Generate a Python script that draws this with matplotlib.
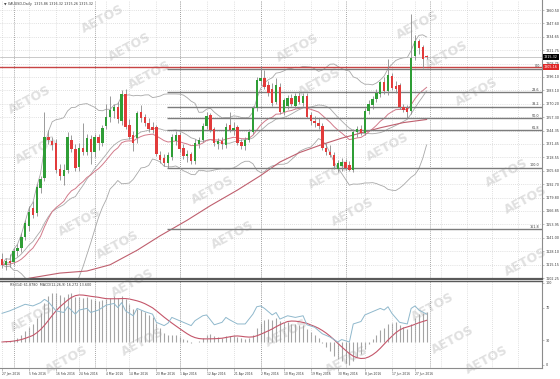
import numpy as np
import pandas as pd
import matplotlib
matplotlib.use('Agg')
import matplotlib.pyplot as plt

# daily XAUUSD candles, 27 Jan 2016 .. 30 Jun 2016
candle_open = [1121, 1115, 1119, 1118, 1128, 1131, 1142, 1152, 1170, 1165, 1189, 1199, 1238, 1234, 1232, 1207,
               1201, 1206, 1235, 1227, 1209, 1228, 1224, 1236, 1224, 1238, 1232, 1249, 1257, 1263, 1267, 1254,
               1280, 1250, 1240, 1237, 1262, 1257, 1252, 1248, 1248, 1221, 1218, 1213, 1219, 1234, 1240, 1228,
               1220, 1222, 1215, 1231, 1235, 1249, 1259, 1246, 1231, 1234, 1230, 1250, 1245, 1248, 1233, 1229,
               1235, 1243, 1266, 1292, 1295, 1288, 1284, 1272, 1286, 1262, 1268, 1276, 1268, 1278, 1271, 1278,
               1259, 1254, 1252, 1249, 1228, 1224, 1221, 1207, 1210, 1214, 1211, 1206, 1243, 1246, 1242, 1263,
               1269, 1275, 1280, 1291, 1282, 1297, 1287, 1288, 1267, 1266, 1263, 1316, 1331, 1325, 1315.5]
candle_high = [1126, 1122, 1125, 1131, 1135, 1146, 1158, 1172, 1176, 1193, 1201, 1262, 1245, 1238, 1236, 1212,
               1212, 1243, 1240, 1231, 1232, 1252, 1241, 1240, 1241, 1241, 1250, 1270, 1278, 1270, 1272, 1283,
               1284, 1255, 1244, 1263, 1269, 1260, 1256, 1253, 1250, 1225, 1222, 1224, 1241, 1244, 1243, 1231,
               1226, 1224, 1236, 1238, 1252, 1262, 1261, 1248, 1237, 1238, 1252, 1262, 1253, 1250, 1236, 1238,
               1246, 1268, 1296, 1307, 1303, 1292, 1290, 1295, 1290, 1276, 1279, 1280, 1281, 1282, 1281, 1281,
               1262, 1258, 1256, 1252, 1232, 1230, 1224, 1216, 1218, 1217, 1215, 1246, 1249, 1250, 1266, 1274,
               1278, 1284, 1292, 1296, 1313, 1300, 1292, 1290, 1270, 1269, 1357, 1336, 1333, 1327, 1317]
candle_low = [1112, 1110, 1113, 1115, 1123, 1127, 1139, 1148, 1160, 1162, 1184, 1196, 1231, 1226, 1203, 1197,
              1192, 1203, 1224, 1205, 1205, 1221, 1221, 1212, 1219, 1226, 1229, 1246, 1253, 1256, 1252, 1250,
              1246, 1236, 1225, 1232, 1253, 1249, 1243, 1242, 1220, 1213, 1210, 1208, 1216, 1230, 1224, 1217,
              1214, 1212, 1212, 1228, 1233, 1246, 1243, 1229, 1227, 1227, 1228, 1243, 1240, 1230, 1227, 1226,
              1233, 1241, 1263, 1288, 1284, 1278, 1268, 1270, 1260, 1259, 1265, 1268, 1266, 1270, 1268, 1256,
              1250, 1248, 1246, 1226, 1221, 1219, 1207, 1204, 1205, 1206, 1205, 1204, 1238, 1240, 1240, 1260,
              1265, 1272, 1277, 1280, 1279, 1283, 1281, 1265, 1262, 1256, 1260, 1312, 1318, 1305, 1313]
candle_close = [1115, 1119, 1117, 1128, 1131, 1142, 1155, 1166, 1163, 1190, 1198, 1238, 1235, 1230, 1206, 1201,
                1206, 1238, 1227, 1208, 1228, 1224, 1237, 1224, 1238, 1232, 1247, 1257, 1264, 1267, 1255, 1280,
                1248, 1238, 1232, 1261, 1256, 1252, 1246, 1245, 1222, 1216, 1213, 1221, 1238, 1240, 1227, 1220,
                1222, 1215, 1232, 1235, 1249, 1258, 1245, 1232, 1234, 1231, 1248, 1245, 1247, 1232, 1229, 1235,
                1243, 1266, 1293, 1295, 1286, 1281, 1271, 1288, 1262, 1274, 1276, 1270, 1278, 1272, 1278, 1257,
                1254, 1252, 1249, 1228, 1224, 1221, 1210, 1213, 1214, 1208, 1206, 1243, 1246, 1242, 1263, 1270,
                1275, 1281, 1291, 1282, 1298, 1285, 1284, 1267, 1264, 1262, 1314, 1331, 1324, 1313, 1315.32]

price_labels = ['1360.50', '1347.60', '1334.65', '1321.75', '1308.75', '1296.10', '1283.10', '1270.20',
                '1257.30', '1244.35', '1231.45', '1218.55', '1205.60', '1192.70', '1179.80', '1166.85',
                '1153.95', '1141.00', '1128.10', '1115.15', '1102.25']
date_tick_idx = [0, 7, 14, 20, 27, 33, 40, 46, 53, 60, 67, 73, 80, 87, 94, 101, 107]
date_labels = ['27 Jan 2016', '5 Feb 2016', '16 Feb 2016', '24 Feb 2016', '4 Mar 2016', '14 Mar 2016',
               '23 Mar 2016', '1 Apr 2016', '12 Apr 2016', '21 Apr 2016', '2 May 2016', '10 May 2016',
               '19 May 2016', '30 May 2016', '8 Jun 2016', '17 Jun 2016', '27 Jun 2016']
month_start_idx = [3, 24, 46, 67, 89, 111]

# slow moving average, sampled off the chart
slow_ma_idx = [7, 15, 22, 28, 35, 41, 48, 54, 61, 67, 72, 77, 83, 88, 93, 98, 104, 110]
slow_ma_val = [1102, 1107, 1109, 1115, 1129, 1143, 1158, 1172, 1187, 1201, 1214, 1223, 1231, 1237, 1242,
               1247, 1252, 1255]

fib_high = 1303.7
fib_low = 1208.3
fib_start_idx = 42.7
fib_levels = [0.0, 23.6, 38.2, 50.0, 61.8, 100.0, 161.8]
resistance = 1305.16
bid = 1315.32

rsi_idx = [0, 2, 4, 6, 8, 10, 11, 12, 14, 16, 17, 19, 20, 22, 23, 25, 27, 29, 30, 31, 32, 34, 35, 37, 39,
           40, 42, 43, 44, 46, 48, 49, 50, 52, 53, 55, 57, 58, 59, 61, 63, 65, 66, 67, 68, 70, 71, 72, 74,
           76, 78, 79, 81, 83, 85, 87, 88, 90, 91, 93, 94, 96, 98, 99, 100, 101, 103, 105, 106, 107, 108, 110]
rsi_val = [63, 66, 70, 74, 72, 76, 80, 77, 66, 64, 71, 62, 67, 69, 64, 67, 73, 75, 70, 76, 66, 60, 69, 65, 62,
           52, 48, 51, 58, 54, 50, 48, 54, 60, 61, 49, 52, 58, 55, 50, 50, 62, 71, 72, 69, 61, 64, 56, 60,
           58, 60, 49, 46, 38, 34, 28, 31, 28, 50, 53, 61, 65, 69, 67, 71, 63, 52, 50, 69, 72, 67, 62]
rsi_levels = [0, 30, 70, 100]

watermarks = [(103, 19), (130, 47), (298, 48), (418, 25), (447, 55), (30, 100), (150, 75), (320, 82),
              (477, 92), (37, 150), (213, 190), (330, 175), (388, 147), (507, 173), (80, 222), (233, 235),
              (353, 212), (526, 200), (118, 245), (526, 262), (133, 283), (32, 318), (287, 333), (433, 307),
              (453, 340), (143, 342), (67, 360), (347, 360), (487, 360)]

PX_W, PX_H = 560, 379


def rect(x0, y0, x1, y1):
    return [x0 / PX_W, 1 - y1 / PX_H, (x1 - x0) / PX_W, (y1 - y0) / PX_H]


def price_at(y):
    return 1360.5 - (y - 10) * 0.9636


txt = '#3c3c3c'
grid_c = '#c4c4c4'
fs = 2.4

fig = plt.figure(figsize=(5.6, 3.79), dpi=100)
fig.patch.set_facecolor('white')

for wx, wy in watermarks:
    fig.text(wx / PX_W, 1 - wy / PX_H, 'AETOS', fontsize=9, fontweight='bold', color='#e0e0e0',
             rotation=28, ha='center', va='center', zorder=-1)

ax = fig.add_axes(rect(0, 0, 542, 279))
axi = fig.add_axes(rect(0, 281, 542, 368))
for a in (ax, axi):
    a.patch.set_alpha(0)
    a.set_xlim(-0.52, 139.9)
    for s in ('left', 'top'):
        a.spines[s].set_visible(False)
    a.spines['right'].set_color('#8c8c8c')
    a.spines['right'].set_linewidth(0.8)

step = (date_tick_idx[-1] - date_tick_idx[0]) / (len(date_tick_idx) - 1)
grid_x = list(date_tick_idx) + list(date_tick_idx[-1] + step * np.arange(1, 5))
for a in (ax, axi):
    for gx in grid_x:
        a.axvline(gx, color=grid_c, lw=0.5, ls=(0, (1, 2)), zorder=1)
    for mx in month_start_idx:
        a.axvline(mx, color='#8a8a8a', lw=0.6, ls=(0, (1, 1.5)), zorder=1)

# ---- main price panel ----
ticks = [float(p) for p in price_labels]
ax.set_ylim(price_at(279), price_at(0))
for t in ticks:
    ax.axhline(t, color=grid_c, lw=0.5, ls=(0, (1, 2)), zorder=1)
ax.yaxis.tick_right()
ax.set_yticks(ticks)
ax.set_yticklabels(price_labels, fontsize=fs, color=txt)
ax.tick_params(axis='y', length=1.5, width=0.4, pad=1, colors='#8c8c8c', labelcolor=txt)
ax.set_xticks([])
ax.spines['bottom'].set_color('#5a5a5a')
ax.spines['bottom'].set_linewidth(1.6)

o = np.array(candle_open, dtype=float)
h = np.array(candle_high, dtype=float)
l = np.array(candle_low, dtype=float)
c = np.array(candle_close, dtype=float)
idx = np.arange(len(c))
close = pd.Series(c)

sma20 = close.rolling(20, min_periods=1).mean()
std20 = close.rolling(20, min_periods=1).std(ddof=0)
ema20 = close.ewm(span=20, adjust=False).mean()
ax.plot(idx, sma20 + 2 * std20, color='#a8a8a8', lw=0.6, zorder=2)
ax.plot(idx, sma20 - 2 * std20, color='#a8a8a8', lw=0.6, zorder=2)
ax.plot(idx, sma20, color='#a8a8a8', lw=0.6, zorder=2)
ax.plot(idx, ema20, color='#d27a8a', lw=0.7, zorder=2)
ax.plot(slow_ma_idx, slow_ma_val, color='#bf5f6e', lw=0.8, zorder=2)

fib_prices = [fib_high - r / 100 * (fib_high - fib_low) for r in fib_levels]
ax.hlines(fib_prices, fib_start_idx, 139.9, color='#7c7c7c', lw=1.0, zorder=2)
for r, p in zip(fib_levels, fib_prices):
    ax.text(139.3, p + 0.6, f'{r:.1f}', fontsize=fs, color=txt, ha='right', va='bottom', zorder=5)
ax.axhline(resistance, color='#c84444', lw=1.0, zorder=2)
ax.axhline(bid, color='#b4b4b4', lw=0.5, zorder=2)

up = c >= o
body_lo = np.minimum(o, c)
body_h = np.maximum(np.abs(c - o), 0.7)
ax.vlines(idx, l, h, color='#8a8a8a', lw=0.6, zorder=3)
ax.bar(idx[up], body_h[up], bottom=body_lo[up], width=0.62, color='#2f9e36', lw=0, zorder=4)
ax.bar(idx[~up], body_h[~up], bottom=body_lo[~up], width=0.62, color='#e23b3b', lw=0, zorder=4)

yt = ax.get_yaxis_transform()
ax.text(1.003, bid, f'{bid:.2f}', transform=yt, fontsize=fs, color='white', ha='left', va='center',
        clip_on=False, zorder=6, bbox=dict(boxstyle='square,pad=0.3', fc='black', ec='none'))
ax.text(1.003, resistance, f'{resistance:.2f}', transform=yt, fontsize=fs, color='white', ha='left',
        va='center', clip_on=False, zorder=6, bbox=dict(boxstyle='square,pad=0.3', fc='#e02828', ec='none'))

fig.text(4 / PX_W, 1 - 4 / PX_H, '\u25bc XAUUSD,Daily  1315.86 1316.32 1315.26 1315.32', fontsize=fs,
         color=txt, ha='left', va='center')

# ---- indicator panel: RSI(14) with MACD(12,26,9) overlaid ----
macd = close.ewm(span=12, adjust=False).mean() - close.ewm(span=26, adjust=False).mean()
signal = macd.rolling(9, min_periods=1).mean()
axm = axi.twinx()
axm.set_ylim(-14.9, 34.9)
axm.set_xlim(-0.52, 139.9)
axm.axis('off')
axm.vlines(idx, 0, macd, color='#a4a4a4', lw=0.8, zorder=2)
axm.plot(idx, signal, color='#c4566a', lw=0.8, zorder=3)
axi.set_zorder(axm.get_zorder() + 1)

axi.set_ylim(-3.7, 102.4)
axi.yaxis.tick_right()
axi.set_yticks(rsi_levels)
axi.set_yticklabels([str(v) for v in rsi_levels], fontsize=fs, color=txt)
axi.tick_params(axis='y', length=1.5, width=0.4, pad=1, colors='#8c8c8c', labelcolor=txt)
axi.set_xticks(date_tick_idx)
axi.set_xticklabels(date_labels, fontsize=2.2, color=txt, ha='left')
axi.tick_params(axis='x', length=2, width=0.4, pad=1, colors='#8c8c8c', labelcolor=txt)
axi.spines['top'].set_visible(True)
axi.spines['top'].set_color('#5a5a5a')
axi.spines['top'].set_linewidth(1.0)
axi.spines['bottom'].set_color('#8c8c8c')
axi.spines['bottom'].set_linewidth(0.8)
axi.plot(rsi_idx, rsi_val, color='#8fb8cc', lw=0.7, zorder=4)

axi.text(2, 100, 'RSI(14) 61.8780  MACD(12,26,9) 16.272 13.600', fontsize=fs, color=txt, ha='left',
         va='top')

fig.savefig('out.png', dpi=100)
